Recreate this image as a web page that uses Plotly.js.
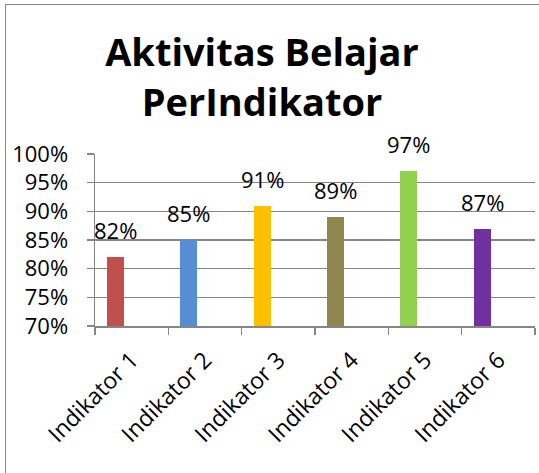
<!DOCTYPE html>
<html>
<head>
<meta charset="utf-8">
<script src="https://cdn.plot.ly/plotly-3.0.1.min.js"></script>
<style>
  html, body { margin: 0; padding: 0; background: #ffffff; }
  #wrap { position: relative; width: 539px; height: 473px; }
  #chart { position: absolute; left: 0; top: 0; width: 539px; height: 473px; }
  #frame { position: absolute; left: 5px; top: 4px; width: 540px; height: 480px;
           border-left: 1.5px solid #878787; border-top: 1.5px solid #878787; pointer-events: none; }
</style>
</head>
<body>
<div id="wrap">
  <div id="chart"></div>
  <div id="frame"></div>
</div>
<script>
// ---- data ----
const categories = ["Indikator 1", "Indikator 2", "Indikator 3", "Indikator 4", "Indikator 5", "Indikator 6"];
const values = [0.82, 0.85, 0.91, 0.89, 0.97, 0.87];
const valueLabels = ["82%", "85%", "91%", "89%", "97%", "87%"];
const barColors = ["#c0504d", "#558ed5", "#ffc000", "#8f8650", "#92d050", "#7030a0"];
const chartTitle = "Aktivitas Belajar<br>PerIndikator";

// ---- style ----
const FONT = "Open Sans, Lato, sans-serif";
const BAR_W = 0.232;
const BAR_OFF = -0.336;
const GRID = "#868686";

const trace = {
  type: "bar",
  x: categories,
  y: values,
  width: categories.map(() => BAR_W),
  offset: categories.map(() => BAR_OFF),
  marker: { color: barColors, line: { width: 0 } },
  hoverinfo: "skip",
  showlegend: false
};

const annotations = categories.map((c, i) => ({
  x: i + BAR_OFF + BAR_W / 2,
  y: values[i],
  xref: "x", yref: "y",
  text: valueLabels[i],
  showarrow: false,
  yanchor: "bottom",
  xanchor: "center",
  yshift: 10,
  font: { family: FONT, size: 22, color: "#000000" }
}));

const layout = {
  width: 539, height: 473,
  margin: { l: 95, r: 4, t: 154, b: 147 },
  paper_bgcolor: "#ffffff",
  plot_bgcolor: "#ffffff",
  title: {
    text: chartTitle,
    font: { family: FONT, size: 38, color: "#000000", weight: "bold" },
    xref: "container", x: 0.486, xanchor: "center",
    yref: "container", y: 0.86, yanchor: "top"
  },
  xaxis: {
    type: "category",
    range: [-0.5, categories.length - 0.5],
    tickson: "boundaries",
    ticks: "outside", ticklen: 7, tickcolor: GRID, tickwidth: 1.5,
    showline: true, linecolor: GRID, linewidth: 1.5,
    showgrid: false,
    tickangle: -45,
    tickfont: { family: FONT, size: 23, color: "#000000" },
    ticklabelstandoff: 10
  },
  yaxis: {
    range: [0.70, 1.00],
    dtick: 0.05, tick0: 0.70,
    tickformat: ".0%",
    ticks: "outside", ticklen: 7, tickcolor: GRID, tickwidth: 1.5,
    showline: true, linecolor: GRID, linewidth: 1.5,
    showgrid: true, gridcolor: GRID, gridwidth: 1.5,
    zeroline: false,
    tickfont: { family: FONT, size: 22, color: "#000000" },
    ticklabelstandoff: 14
  },
  annotations: annotations,
  bargap: 0
};

Plotly.newPlot("chart", [trace], layout, { displayModeBar: false, staticPlot: true });
</script>
</body>
</html>
